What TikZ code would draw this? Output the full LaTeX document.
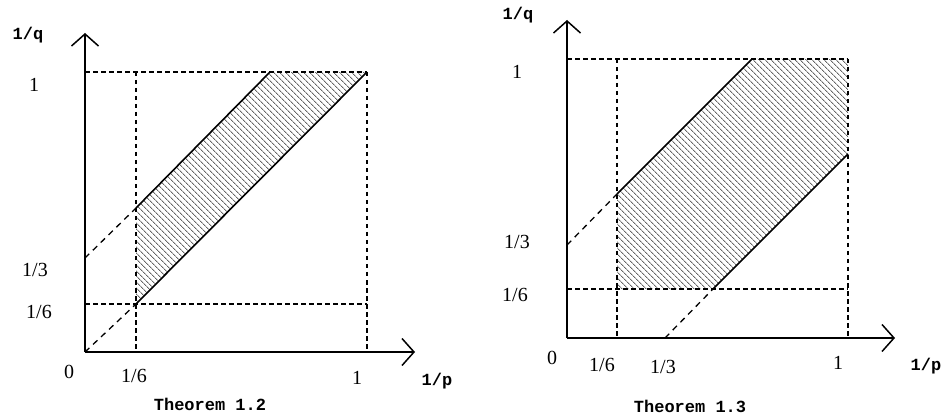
\documentclass[tikz,border=0pt]{standalone}
\usepackage{fontspec}
\setmainfont{Liberation Serif}
\newfontfamily\varfont{Liberation Mono}
\usetikzlibrary{arrows.meta, patterns.meta}

\begin{document}
\begin{tikzpicture}[
  x=1pt, y=-1pt,
  axis/.style={line width=1.9pt,
               -{Straight Barb[length=12pt, width=27pt, line width=1.5pt]}},
  guide/.style={line width=2pt, dash pattern=on 4.5pt off 3.5pt},
  edge/.style={line width=1.6pt},
  ext/.style={line width=1.3pt, dash pattern=on 6pt off 5pt},
  hatch/.style={pattern={Lines[angle=-45, distance=4pt, line width=1pt]},
                pattern color=black!60},
  num/.style={font=\fontsize{20}{22}\selectfont, inner sep=0pt},
  var/.style={font=\varfont\bfseries\fontsize{17}{19}\selectfont, inner sep=0pt},
]
  \useasboundingbox (0,0) rectangle (941,419);

  % Theorem 1.2
  \coordinate (lo)  at (85,352);
  \coordinate (lyt) at (85,33);
  \coordinate (lxt) at (415,352);
  \coordinate (lq1) at (85,72);
  \coordinate (lq6) at (85,304);
  \coordinate (lq3) at (85,258);
  \coordinate (lc)  at (367,72);
  \coordinate (lp6) at (136,352);
  \coordinate (lp1) at (367,352);
  \coordinate (lt6) at (136,72);
  \coordinate (lr6) at (367,304);
  \coordinate (la)  at (136,304);
  \coordinate (lb)  at (136,208);
  \coordinate (ld)  at (270,72);

  \fill[hatch] (la) -- (lc) -- (ld) -- (lb) -- cycle;
  \draw[guide] (lq1) -- (lc);
  \draw[guide] (lq6) -- (lr6);
  \draw[guide] (lt6) -- (lp6);
  \draw[guide] (lc) -- (lp1);
  \draw[ext] (lq3) -- (lb);
  \draw[ext] (lo) -- (la);
  \draw[edge] (lb) -- (ld);
  \draw[edge] (la) -- (lc);
  \draw[axis] (lo) -- (lyt);
  \draw[axis] (lo) -- (lxt);

  \node[var] (lqlab) at (28,35) {1/q};
  \node[num] (ly1)  at (34,85) {1};
  \node[num] (ly3)  at (35,270) {1/3};
  \node[num] (ly6)  at (39,312) {1/6};
  \node[num] (lx0)  at (69,372) {0};
  \node[num] (lx6)  at (134,376) {1/6};
  \node[num] (lx1)  at (357,378) {1};
  \node[var] (lplab) at (437,381) {1/p};
  \node[var] (lcap) at (210,404) {Theorem 1.2};

  % Theorem 1.3
  \coordinate (ro)  at (567,338);
  \coordinate (ryt) at (567,20);
  \coordinate (rxt) at (895,338);
  \coordinate (rq1) at (567,59);
  \coordinate (rq6) at (567,289);
  \coordinate (rq3) at (567,245);
  \coordinate (rc)  at (848,59);
  \coordinate (rp6) at (617,338);
  \coordinate (rp3) at (665,338);
  \coordinate (rp1) at (848,338);
  \coordinate (rt6) at (617,59);
  \coordinate (rr6) at (848,289);
  \coordinate (ra)  at (617,289);
  \coordinate (rb)  at (617,194);
  \coordinate (rd)  at (752,59);
  \coordinate (re)  at (713,289);
  \coordinate (rf)  at (848,154);

  \fill[hatch] (ra) -- (re) -- (rf) -- (rc) -- (rd) -- (rb) -- cycle;
  \draw[guide] (rq1) -- (rc);
  \draw[guide] (rq6) -- (rr6);
  \draw[guide] (rt6) -- (rp6);
  \draw[guide] (rc) -- (rp1);
  \draw[ext] (rq3) -- (rb);
  \draw[ext] (rp3) -- (re);
  \draw[edge] (rb) -- (rd);
  \draw[edge] (re) -- (rf);
  \draw[axis] (ro) -- (ryt);
  \draw[axis] (ro) -- (rxt);

  \node[var] (rqlab) at (518,15) {1/q};
  \node[num] (ry1)  at (517,72) {1};
  \node[num] (ry3)  at (517,242) {1/3};
  \node[num] (ry6)  at (515,295) {1/6};
  \node[num] (rx0)  at (552,358) {0};
  \node[num] (rx6)  at (602,365) {1/6};
  \node[num] (rx3)  at (663,367) {1/3};
  \node[num] (rx1)  at (838,363) {1};
  \node[var] (rplab) at (926,366) {1/p};
  \node[var] (rcap) at (690,406) {Theorem 1.3};
\end{tikzpicture}
\end{document}
